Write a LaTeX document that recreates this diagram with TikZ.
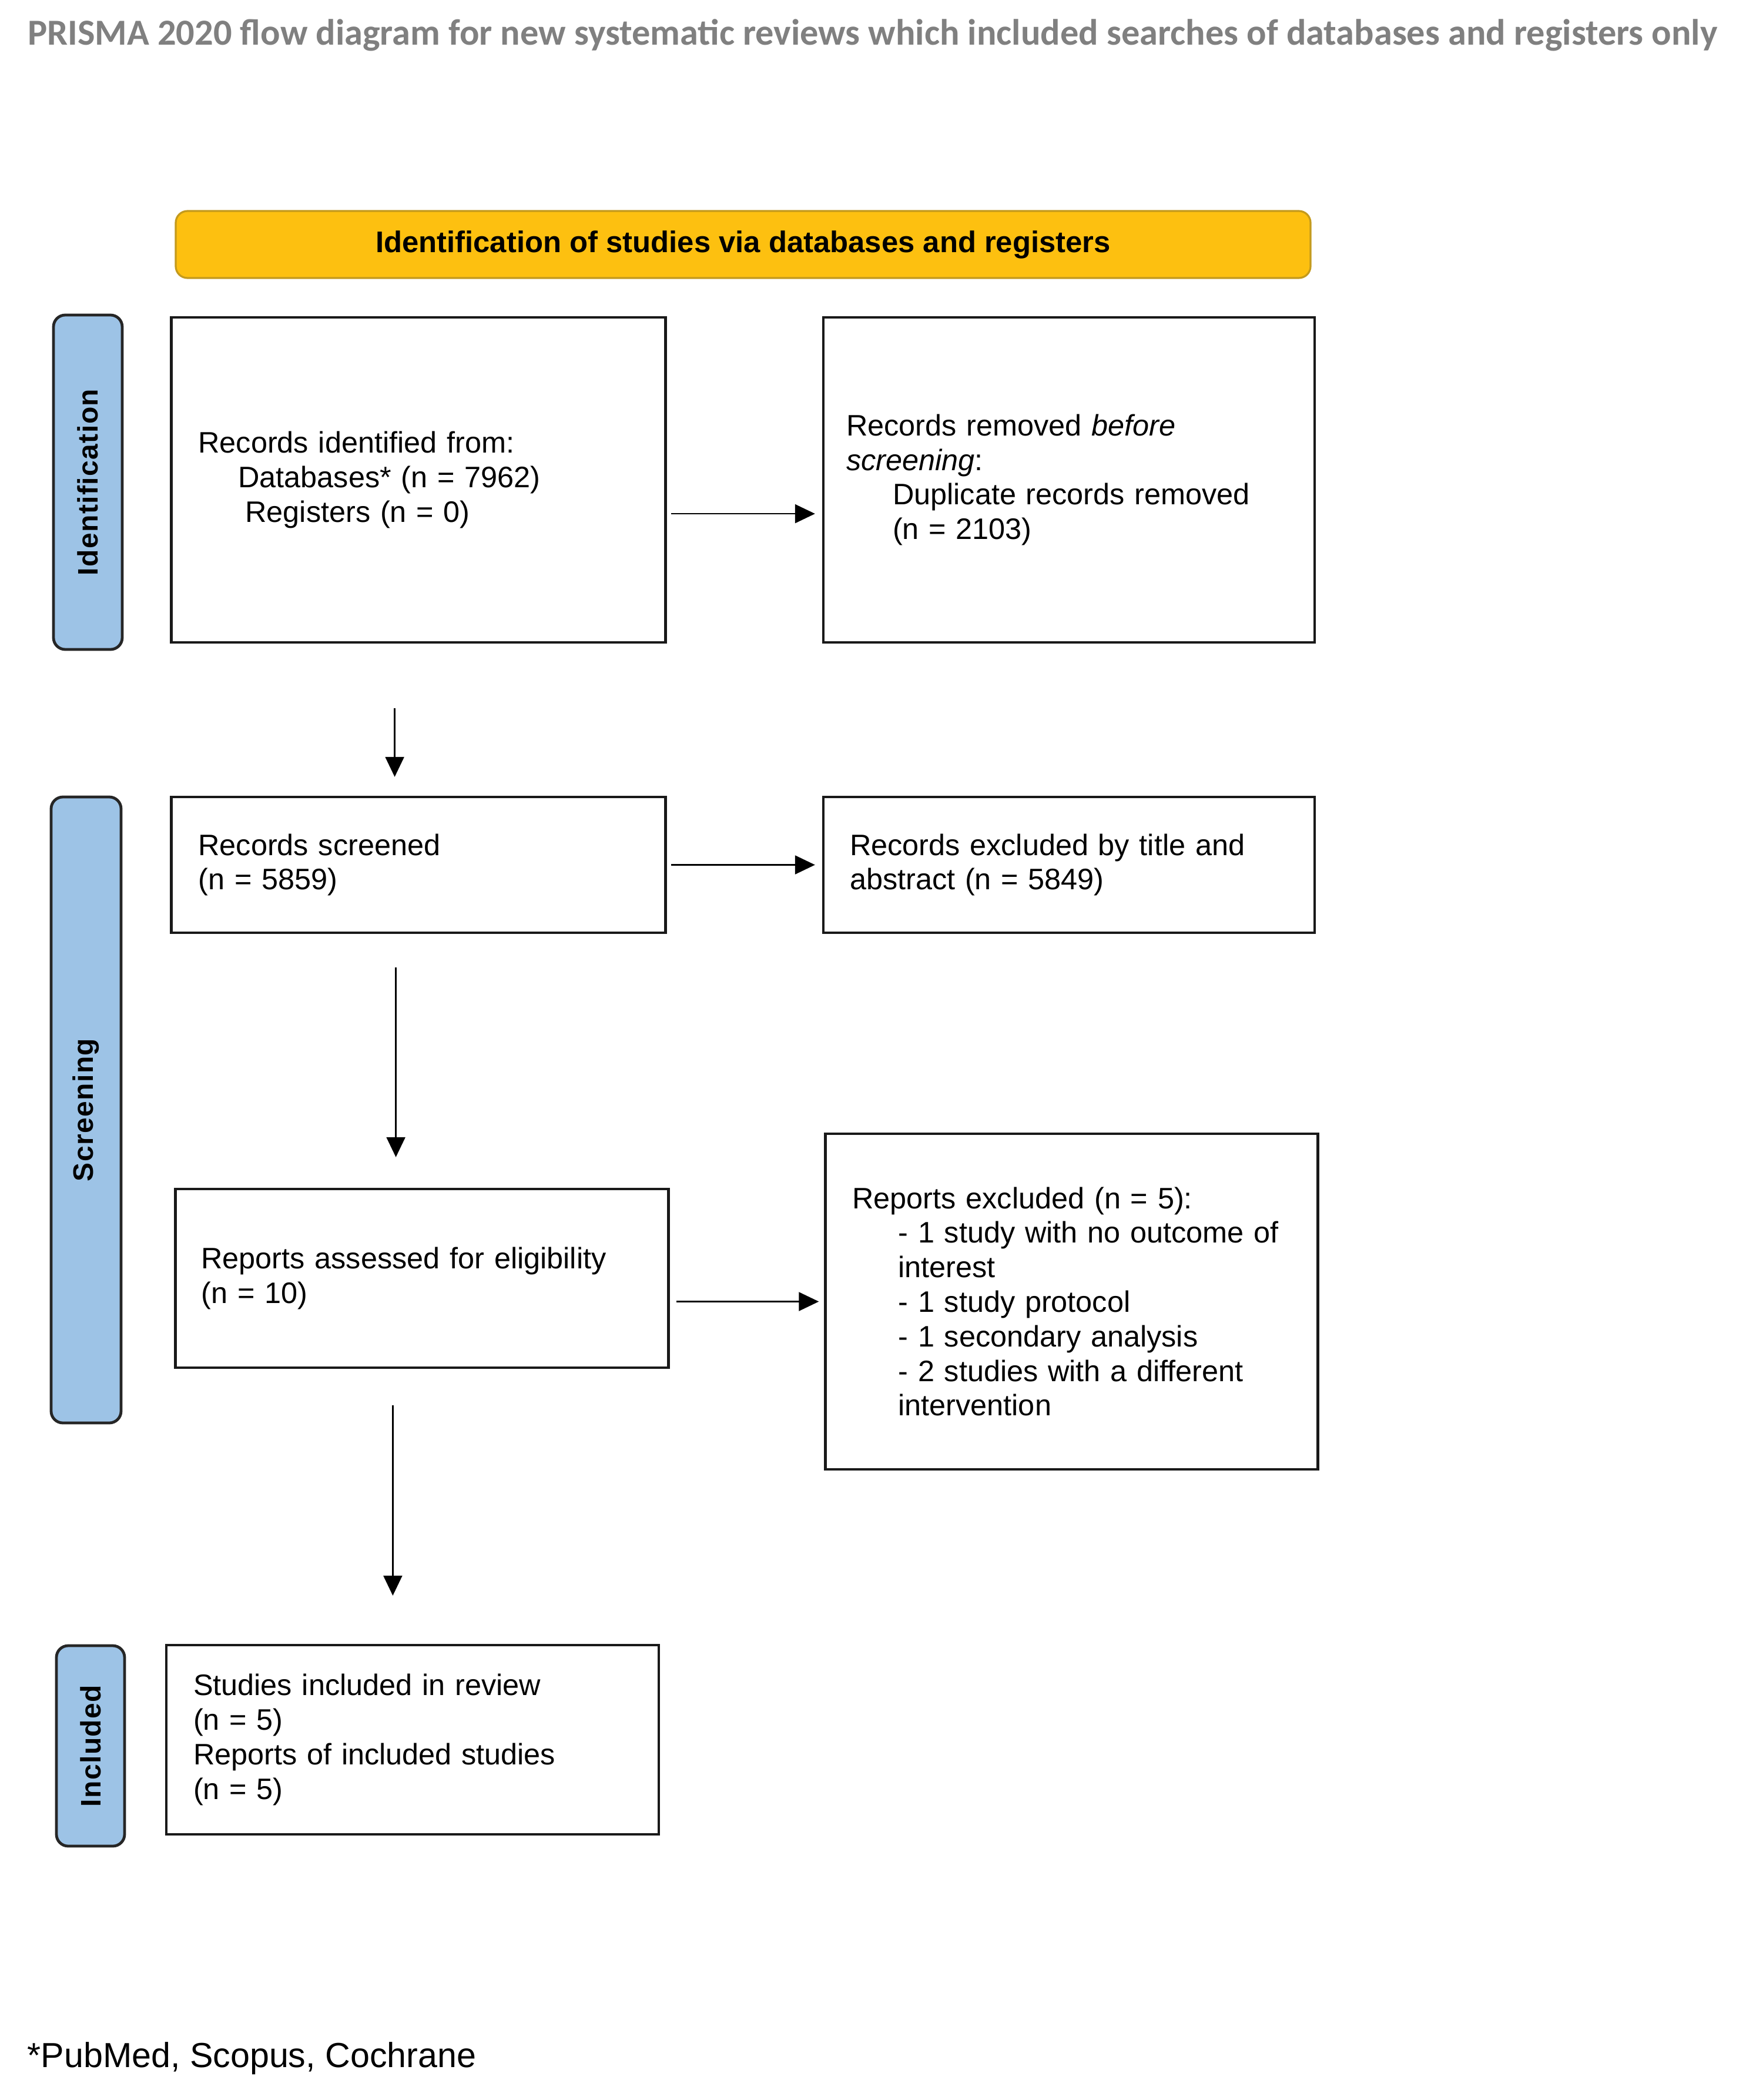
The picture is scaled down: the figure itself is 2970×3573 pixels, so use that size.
\documentclass[tikz,border=0pt]{standalone}
\usepackage{fontspec}
\setmainfont{Liberation Sans}
\newfontfamily\titlefont{Carlito}
\newfontfamily\barfont{Liberation Sans}[LetterSpace=3]
\usetikzlibrary{arrows.meta}
\definecolor{titlegray}{HTML}{808080}
\definecolor{barblue}{HTML}{9DC3E6}
\definecolor{baryellow}{HTML}{FDC010}
\definecolor{yellowedge}{HTML}{C49A1C}
\tikzset{
  flowbox/.style={draw=black!90, line width=1.1pt, fill=white, align=left, inner ysep=0pt,
    font=\fontsize{12.6pt}{14.7pt}\selectfont},
  sidebar/.style={draw=black!85, line width=1.2pt, fill=barblue, rounded corners=5pt, rotate=90,
    inner sep=0pt, font=\barfont\bfseries\fontsize{12pt}{14pt}\selectfont},
  headbar/.style={draw=yellowedge, line width=0.8pt, fill=baryellow, rounded corners=5pt,
    inner sep=0pt, font=\bfseries\fontsize{12.7pt}{14.7pt}\selectfont},
  flowarrow/.style={draw=black, line width=0.6pt, -{Triangle[length=8.5pt,width=8pt]}}
}
\begin{document}
\begin{tikzpicture}[x=0.25pt,y=-0.25pt]
\fill[white] (0,0) rectangle (2970,3573);
\useasboundingbox (0,0) rectangle (2970,3573);

% title
\node[font=\titlefont\bfseries\fontsize{15.6pt}{18pt}\selectfont, text=titlegray] (title) at (1485,60)
  {PRISMA 2020 flow diagram for new systematic reviews which included searches of databases and registers only};

% header bar
\node[headbar, minimum width=482.75pt, minimum height=28.5pt] (head) at (1264.5,416)
  {Identification of studies via databases and registers};

% side bars
\node[sidebar, minimum width=142.25pt, minimum height=29.25pt] (sideid) at (149.5,820.5) {Identification};
\node[sidebar, minimum width=266.25pt, minimum height=29.75pt] (sidescr) at (146.5,1888.5) {Screening};
\node[sidebar, minimum width=85.25pt, minimum height=29pt] (sideinc) at (154,2970.5) {Included};

% boxes
\node[flowbox, inner xsep=11.5pt, text width=187.25pt, minimum height=138.25pt] (box1) at (712,816.5)
  {Records identified from:\\
   \hspace*{17pt}Databases* (n = 7962)\\
   \hspace*{20pt}Registers (n = 0)};
\node[flowbox, inner xsep=9.75pt, text width=189.5pt, minimum height=138.25pt] (box2) at (1819,816.5)
  {Records removed \textit{before}\\
   \textit{screening}:\\
   \hspace*{19.75pt}Duplicate records removed\\
   \hspace*{19.75pt}(n = 2103)};
\node[flowbox, inner xsep=11.5pt, text width=187.25pt, minimum height=57.75pt] (box3) at (712,1471.5)
  {Records screened\\(n = 5859)};
\node[flowbox, inner xsep=11.25pt, text width=186.5pt, minimum height=57.75pt] (box4) at (1819,1471.5)
  {Records excluded by title and\\abstract (n = 5849)};
\node[flowbox, inner xsep=11pt, text width=187.75pt, minimum height=76pt] (box5) at (718,2175)
  {Reports assessed for eligibility\\(n = 10)};
\node[flowbox, inner xsep=11.5pt, text width=186.5pt, minimum height=142.75pt] (box6) at (1823.5,2214.5)
  {Reports excluded (n = 5):\\
   \hspace*{19.5pt}- 1 study with no outcome of\\
   \hspace*{19.5pt}interest\\
   \hspace*{19.5pt}- 1 study protocol\\
   \hspace*{19.5pt}- 1 secondary analysis\\
   \hspace*{19.5pt}- 2 studies with a different\\
   \hspace*{19.5pt}intervention};
\node[flowbox, inner xsep=11.5pt, text width=186.5pt, minimum height=80.5pt] (box7) at (702,2960)
  {Studies included in review\\(n = 5)\\Reports of included studies\\(n = 5)};

% footnote
\node[anchor=west, inner sep=0pt, font=\fontsize{14.8pt}{17pt}\selectfont] (foot) at (46,3502)
  {*PubMed, Scopus, Cochrane};

% arrows
\draw[flowarrow, shorten <=1.75pt, shorten >=3pt]
  ([yshift=-14.4pt]box1.east) -- ([yshift=-14.4pt]box1.east -| box2.west);
\draw[flowarrow, shorten <=1.75pt, shorten >=3pt] (box3.east) -- (box3.east -| box4.west);
\draw[flowarrow, shorten <=2.75pt, shorten >=2.25pt] (box5.east |- box6.west) -- (box6.west);

\draw[flowarrow, shorten <=27.5pt, shorten >=8pt]
  ([xshift=-10.1pt]box1.south) -- ([xshift=-10.1pt]box1.south |- box3.north);
\draw[flowarrow, shorten <=14.25pt, shorten >=13pt]
  ([xshift=-9.6pt]box3.south) -- ([xshift=-9.6pt]box3.south |- box5.north);
\draw[flowarrow, shorten <=15.5pt, shorten >=20.5pt]
  ([xshift=-12.4pt]box5.south) -- ([xshift=-12.4pt]box5.south |- box7.north);
\end{tikzpicture}
\end{document}
